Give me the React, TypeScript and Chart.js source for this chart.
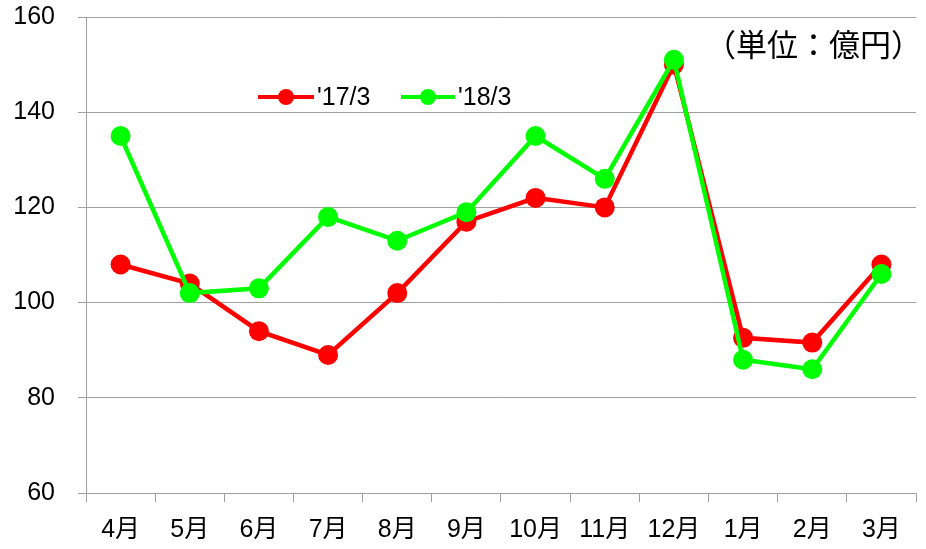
import React, { useEffect, useRef } from "react";
import { Chart, registerables } from "chart.js";

Chart.register(...registerables);

const months = ["4月", "5月", "6月", "7月", "8月", "9月", "10月", "11月", "12月", "1月", "2月", "3月"];
const series17 = [108, 104, 94, 89, 102, 117, 122, 120, 150, 92.6, 91.6, 108];
const series18 = [135, 102, 103, 118, 113, 119, 135, 126, 151, 88, 86, 106];
const seriesNames = ["'17/3", "'18/3"];
const yTicks = [60, 80, 100, 120, 140, 160];
const unitLabel = "（単位：億円）";

const RED = "#ff0000";
const GREEN = "#00ff00";
const FONT = "'Liberation Sans', Arial, 'Noto Sans CJK JP', sans-serif";
const CJK = "'Noto Sans CJK JP', sans-serif";

const overlayPlugin = {
  id: "overlay",
  afterDraw(chart: any) {
    const ctx = chart.ctx;
    ctx.save();
    // unit label
    ctx.fillStyle = "#000";
    ctx.font = `31px ${CJK}`;
    ctx.textBaseline = "middle";
    ctx.textAlign = "left";
    ctx.fillText(unitLabel, 705, 44);
    // legend
    const items = [
      { x0: 258, x1: 314, text: seriesNames[0], color: RED, tx: 317 },
      { x0: 401, x1: 455, text: seriesNames[1], color: GREEN, tx: 458 },
    ];
    const y = 97;
    for (const it of items) {
      ctx.strokeStyle = it.color;
      ctx.lineWidth = 4;
      ctx.beginPath();
      ctx.moveTo(it.x0, y);
      ctx.lineTo(it.x1, y);
      ctx.stroke();
      ctx.fillStyle = it.color;
      ctx.beginPath();
      ctx.arc((it.x0 + it.x1) / 2, y, 8, 0, Math.PI * 2);
      ctx.fill();
      ctx.fillStyle = "#000";
      ctx.font = `25px ${FONT}`;
      ctx.textAlign = "left";
      ctx.textBaseline = "middle";
      ctx.fillText(it.text, it.tx, y + 1);
    }
    ctx.restore();
  },
};

export default function App() {
  const ref = useRef<HTMLCanvasElement>(null);
  useEffect(() => {
    if (!ref.current) return;
    const chart = new Chart(ref.current, {
      type: "line",
      data: {
        labels: months,
        datasets: [
          {
            label: seriesNames[0],
            data: series17,
            borderColor: RED,
            backgroundColor: RED,
            borderWidth: 4.5,
            pointRadius: 10,
            pointHoverRadius: 10,
            pointBorderWidth: 0,
            tension: 0,
            order: 2,
          },
          {
            label: seriesNames[1],
            data: series18,
            borderColor: GREEN,
            backgroundColor: GREEN,
            borderWidth: 4.5,
            pointRadius: 10,
            pointHoverRadius: 10,
            pointBorderWidth: 0,
            tension: 0,
            order: 1,
          },
        ],
      },
      options: {
        animation: false,
        responsive: false,
        maintainAspectRatio: false,
        layout: { padding: { top: 17, right: 10, left: 0, bottom: 0 } },
        plugins: {
          legend: { display: false },
          tooltip: { enabled: false },
        },
        scales: {
          x: {
            offset: true,
            grid: {
              offset: true,
              drawOnChartArea: false,
              drawTicks: true,
              tickLength: 9,
              color: "#a0a0a0",
            },
            border: { color: "#a0a0a0", width: 1 },
            ticks: {
              color: "#000",
              font: { family: FONT, size: 25 },
              padding: 13,
              maxRotation: 0,
              autoSkip: false,
            },
            afterFit(scale: any) {
              scale.height = 56;
              scale.paddingLeft = 0;
              scale.paddingRight = 0;
            },
          },
          y: {
            min: yTicks[0],
            max: yTicks[yTicks.length - 1],
            afterBuildTicks(scale: any) {
              scale.ticks = yTicks.map((v) => ({ value: v }));
            },
            grid: {
              color: "#a0a0a0",
              tickLength: 8,
              drawTicks: true,
            },
            border: { color: "#a0a0a0", width: 1 },
            ticks: {
              color: "#000",
              font: { family: FONT, size: 25 },
              padding: 23,
            },
            afterFit(scale: any) {
              scale.width = 86;
              scale.paddingTop = 0;
              scale.paddingBottom = 0;
            },
          },
        },
      },
      plugins: [overlayPlugin],
    });
    return () => chart.destroy();
  }, []);
  return (
    <div style={{ position: "fixed", left: 0, top: 0, width: 926, height: 549, background: "#fff" }}>
      <canvas ref={ref} width={926} height={549} style={{ display: "block" }} />
    </div>
  );
}
